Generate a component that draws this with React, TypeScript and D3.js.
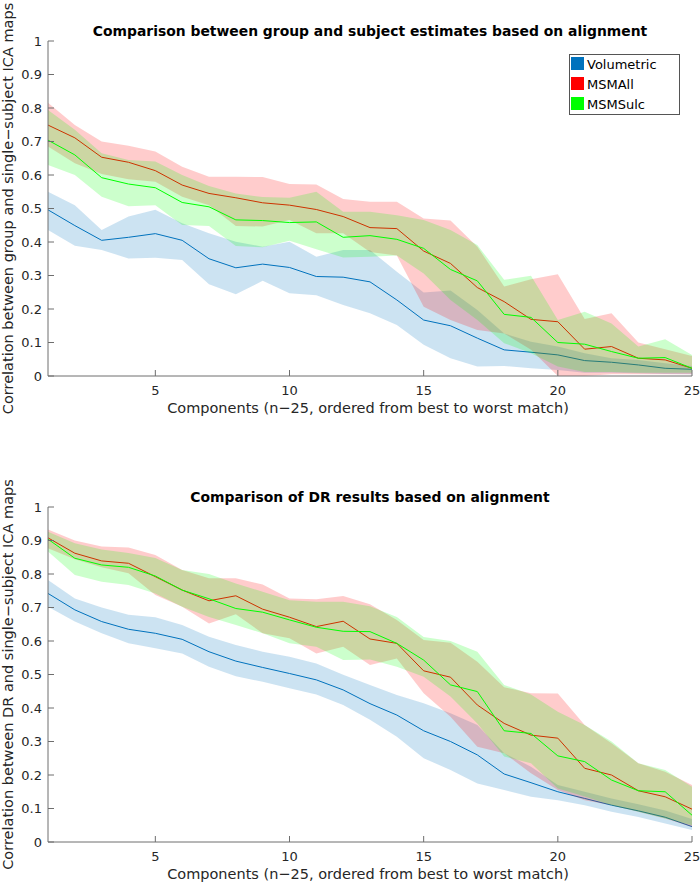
import React from "react";
import * as d3 from "d3";

const components = [1,2,3,4,5,6,7,8,9,10,11,12,13,14,15,16,17,18,19,20,21,22,23,24,25];
const xTicks = [5, 10, 15, 20, 25];
const yTicks = [0, 0.1, 0.2, 0.3, 0.4, 0.5, 0.6, 0.7, 0.8, 0.9, 1];
const seriesNames = ["Volumetric", "MSMAll", "MSMSulc"];

// Top chart: group vs subject estimates
const volMeanA = [0.496,0.449,0.405,0.414,0.425,0.405,0.35,0.323,0.334,0.324,0.297,0.295,0.281,0.227,0.167,0.15,0.113,0.078,0.071,0.063,0.046,0.041,0.033,0.023,0.02];
const volUpperA = [0.55,0.51,0.436,0.476,0.496,0.456,0.426,0.401,0.386,0.401,0.356,0.376,0.376,0.311,0.249,0.255,0.197,0.127,0.102,0.088,0.068,0.053,0.048,0.038,0.03];
const volLowerA = [0.436,0.389,0.376,0.351,0.353,0.346,0.274,0.244,0.284,0.247,0.241,0.212,0.187,0.152,0.093,0.053,0.028,0.03,0.023,0.018,0.01,0.01,0.008,0.006,0.005];
const allMeanA = [0.749,0.711,0.653,0.638,0.613,0.57,0.545,0.532,0.517,0.51,0.497,0.476,0.443,0.44,0.373,0.336,0.264,0.222,0.169,0.162,0.08,0.088,0.053,0.048,0.023];
const allUpperA = [0.816,0.749,0.7,0.687,0.67,0.625,0.595,0.595,0.594,0.573,0.572,0.528,0.52,0.52,0.47,0.464,0.386,0.267,0.289,0.304,0.17,0.187,0.1,0.08,0.06];
const allLowerA = [0.685,0.635,0.603,0.587,0.58,0.535,0.51,0.448,0.446,0.466,0.426,0.426,0.37,0.36,0.207,0.167,0.137,0.127,0.078,0.0,0.0,0.005,0.005,0.005,0.005];
const sulcMeanA = [0.704,0.66,0.592,0.573,0.562,0.518,0.505,0.466,0.464,0.458,0.46,0.414,0.419,0.408,0.381,0.318,0.284,0.184,0.175,0.1,0.095,0.073,0.053,0.055,0.023];
const sulcUpperA = [0.794,0.735,0.665,0.645,0.64,0.6,0.567,0.545,0.534,0.532,0.55,0.49,0.49,0.48,0.466,0.436,0.391,0.287,0.299,0.167,0.192,0.157,0.088,0.11,0.063];
const sulcLowerA = [0.63,0.6,0.535,0.507,0.51,0.451,0.448,0.388,0.384,0.404,0.378,0.354,0.356,0.36,0.306,0.227,0.167,0.098,0.068,0.028,0.012,0.012,0.01,0.01,0.01];

// Bottom chart: DR results
const volMeanB = [0.742,0.693,0.658,0.635,0.623,0.605,0.568,0.54,0.521,0.503,0.484,0.454,0.413,0.379,0.332,0.3,0.26,0.203,0.177,0.15,0.13,0.11,0.093,0.074,0.046];
const volUpperB = [0.782,0.727,0.7,0.678,0.671,0.648,0.613,0.588,0.568,0.553,0.533,0.499,0.469,0.439,0.414,0.384,0.349,0.265,0.225,0.17,0.15,0.13,0.113,0.094,0.069];
const volLowerB = [0.702,0.658,0.623,0.593,0.578,0.563,0.523,0.495,0.478,0.459,0.44,0.409,0.365,0.314,0.25,0.215,0.175,0.155,0.135,0.125,0.11,0.09,0.075,0.055,0.036];
const allMeanB = [0.908,0.862,0.839,0.832,0.792,0.752,0.72,0.735,0.695,0.671,0.643,0.659,0.606,0.593,0.511,0.492,0.409,0.354,0.319,0.31,0.22,0.2,0.153,0.135,0.098];
const allUpperB = [0.933,0.9,0.882,0.879,0.857,0.812,0.787,0.787,0.769,0.727,0.725,0.734,0.71,0.663,0.603,0.595,0.538,0.462,0.444,0.443,0.349,0.295,0.235,0.21,0.17];
const allLowerB = [0.877,0.844,0.82,0.802,0.737,0.702,0.652,0.68,0.623,0.608,0.563,0.583,0.528,0.548,0.444,0.374,0.284,0.265,0.205,0.155,0.125,0.11,0.09,0.07,0.045];
const sulcMeanB = [0.904,0.847,0.827,0.82,0.794,0.752,0.726,0.697,0.686,0.663,0.641,0.629,0.628,0.593,0.543,0.469,0.449,0.332,0.324,0.257,0.24,0.185,0.153,0.15,0.08];
const sulcUpperB = [0.926,0.892,0.873,0.863,0.848,0.812,0.8,0.772,0.747,0.722,0.717,0.717,0.704,0.672,0.612,0.6,0.568,0.469,0.44,0.389,0.349,0.3,0.235,0.215,0.165];
const sulcLowerB = [0.867,0.797,0.777,0.767,0.742,0.702,0.672,0.648,0.623,0.593,0.583,0.543,0.545,0.523,0.493,0.434,0.354,0.255,0.235,0.16,0.136,0.11,0.09,0.07,0.05];

const lineColors = ["#0072BD", "#ff0000", "#00ff00"];
const FONT = "'DejaVu Sans', sans-serif";
const AXIS = "#6e6e6e";
const TEXT = "#262626";

type Series = { mean: number[]; upper: number[]; lower: number[] };

function Panel({ top, bottom, title, ylabel, series, legend }: { top: number; bottom: number; title: string; ylabel: string; series: Series[]; legend: boolean }) {
  const left = 48, right = 692;
  const x = d3.scaleLinear().domain([1, 25]).range([left, right]);
  const y = d3.scaleLinear().domain([0, 1]).range([bottom, top]);
  const mkArea = (s: Series) =>
    d3.area<number>()
      .x(d => x(d))
      .y0((_, i) => y(s.lower[i]))
      .y1((_, i) => y(s.upper[i]))(components);
  const mkLine = (s: Series) =>
    d3.line<number>().x((_, i) => x(components[i])).y(d => y(d))(s.mean);
  const cy = (top + bottom) / 2;
  return (
    <g>
      {series.map((s, k) => (
        <g key={k}>
          <path d={mkArea(s) || ""} fill={lineColors[k]} fillOpacity={0.2} stroke="none" />
          <path d={mkLine(s) || ""} fill="none" stroke={lineColors[k]} strokeWidth={1} />
        </g>
      ))}
      <line x1={left} x2={left} y1={top} y2={bottom} stroke={AXIS} strokeWidth={1} />
      <line x1={left} x2={right} y1={bottom} y2={bottom} stroke={AXIS} strokeWidth={1} />
      {yTicks.map(t => (
        <g key={t}>
          <line x1={left} x2={left + 6} y1={y(t)} y2={y(t)} stroke={AXIS} />
          <text x={left - 6} y={y(t) + 4.5} textAnchor="end" fontSize={13} fill={TEXT} fontFamily={FONT}>{String(t)}</text>
        </g>
      ))}
      {xTicks.map(t => (
        <g key={t}>
          <line x1={x(t)} x2={x(t)} y1={bottom} y2={bottom - 6} stroke={AXIS} />
          <text x={x(t)} y={bottom + 19} textAnchor="middle" fontSize={13} fill={TEXT} fontFamily={FONT}>{t}</text>
        </g>
      ))}
      <text x={(left + right) / 2 - 2} y={bottom + 37} textAnchor="middle" fontSize={14.5} fill={TEXT} fontFamily={FONT}>
        Components (n−25, ordered from best to worst match)
      </text>
      <text transform={`translate(13,${cy}) rotate(-90)`} textAnchor="middle" fontSize={14.5} fill={TEXT} fontFamily={FONT}>
        {ylabel}
      </text>
      <text x={(left + right) / 2} y={top - 5} textAnchor="middle" fontSize={13.9} fontWeight="bold" fill="#000" fontFamily={FONT}>
        {title}
      </text>
      {legend && (
        <g>
          <rect x={569.5} y={54.5} width={110} height={60} fill="#fff" stroke="#555" strokeWidth={1} />
          {seriesNames.map((n, i) => (
            <g key={n}>
              <rect x={571} y={57 + i * 20} width={13} height={13} fill={lineColors[i]} />
              <text x={587} y={69 + i * 20} fontSize={13} fill="#000" fontFamily={FONT}>{n}</text>
            </g>
          ))}
        </g>
      )}
    </g>
  );
}

export default function App() {
  const seriesA: Series[] = [
    { mean: volMeanA, upper: volUpperA, lower: volLowerA },
    { mean: allMeanA, upper: allUpperA, lower: allLowerA },
    { mean: sulcMeanA, upper: sulcUpperA, lower: sulcLowerA },
  ];
  const seriesB: Series[] = [
    { mean: volMeanB, upper: volUpperB, lower: volLowerB },
    { mean: allMeanB, upper: allUpperB, lower: allLowerB },
    { mean: sulcMeanB, upper: sulcUpperB, lower: sulcLowerB },
  ];
  return (
    <svg width={700} height={883} style={{ position: "absolute", left: 0, top: 0, background: "#fff" }}>
      <rect x={0} y={0} width={700} height={883} fill="#fff" />
      <Panel top={41} bottom={376} title="Comparison between group and subject estimates based on alignment"
        ylabel="Correlation between group and single−subject ICA maps" series={seriesA} legend={true} />
      <Panel top={507} bottom={842} title="Comparison of DR results based on alignment"
        ylabel="Correlation between DR and single−subject ICA maps" series={seriesB} legend={false} />
    </svg>
  );
}
